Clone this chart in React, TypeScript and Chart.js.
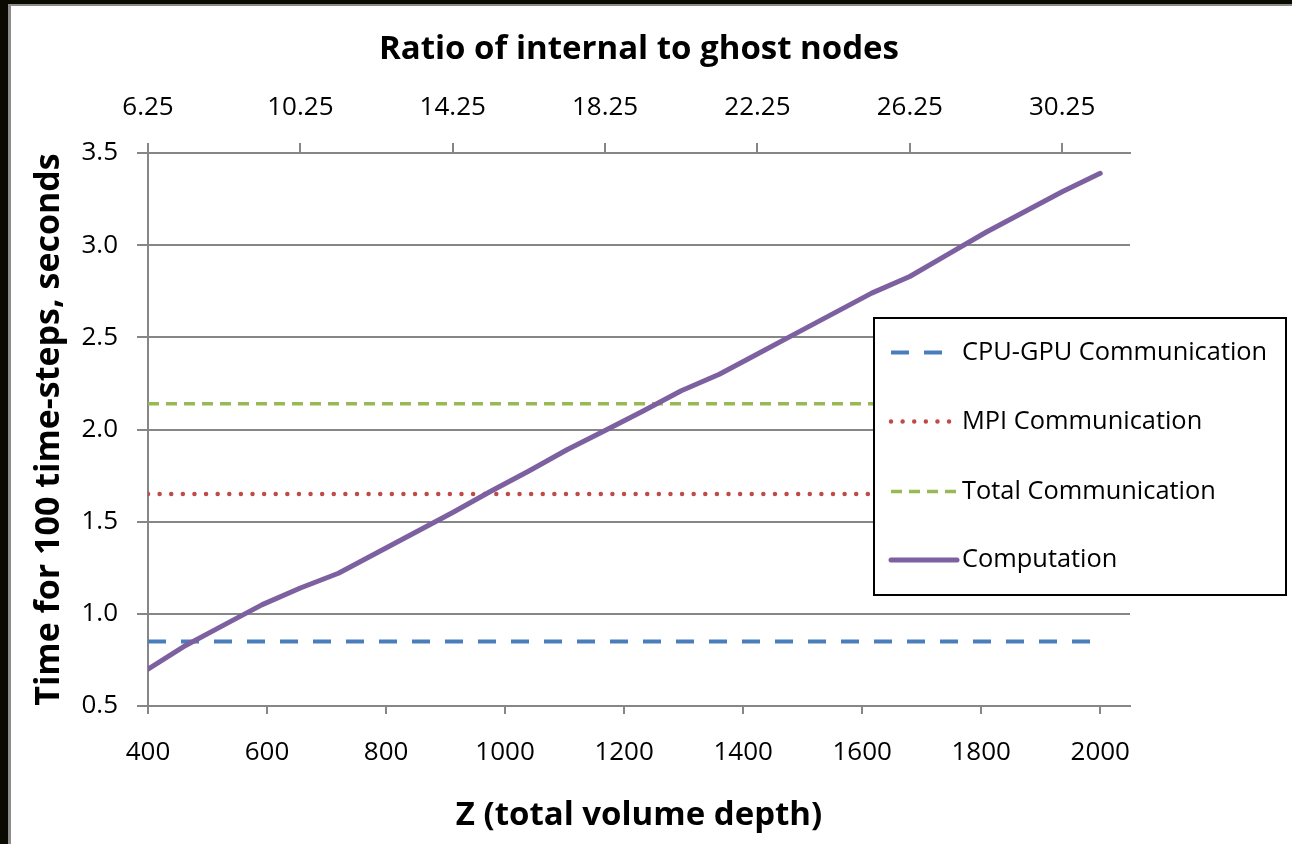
import { useEffect, useRef } from 'react';
import { Chart, registerables } from 'chart.js';

Chart.register(...registerables);

// ---- data ----
const depthZ = [400, 464, 528, 592, 656, 720, 784, 848, 912, 976, 1040, 1104, 1168, 1232, 1296, 1360, 1424, 1488, 1552, 1616, 1680, 1744, 1808, 1872, 1936, 2000];
const computation = [0.70, 0.83, 0.94, 1.05, 1.14, 1.22, 1.33, 1.44, 1.55, 1.665, 1.775, 1.89, 1.995, 2.10, 2.21, 2.30, 2.41, 2.52, 2.63, 2.74, 2.83, 2.95, 3.07, 3.18, 3.29, 3.39];
const flatZ = [400, 2000];
const cpuGpuComm = [0.85, 0.85];
const mpiComm = [1.65, 1.65];
const totalComm = [2.14, 2.14];

const seriesNames = ['CPU-GPU Communication', 'MPI Communication', 'Total Communication', 'Computation'];

const bottomTicks = [400, 600, 800, 1000, 1200, 1400, 1600, 1800, 2000];
const topTicks = [400, 656, 912, 1168, 1424, 1680, 1936];
const topTickLabels = ['6.25', '10.25', '14.25', '18.25', '22.25', '26.25', '30.25'];
const yTicks = [0.5, 1.0, 1.5, 2.0, 2.5, 3.0, 3.5];

const xTitle = 'Z (total volume depth)';
const topTitle = 'Ratio of internal to ghost nodes';
const yTitle = 'Time for 100 time-steps, seconds';

const FONT = "'Open Sans', sans-serif";
const GRID = '#868686';

const pts = (xs: number[], ys: number[]) => xs.map((x, i) => ({ x, y: ys[i] }));

const framePlugin = {
  id: 'frame',
  beforeDraw(chart: any) {
    const { ctx, width, height } = chart;
    ctx.save();
    ctx.fillStyle = '#ffffff';
    ctx.fillRect(0, 0, width, height);
    ctx.fillStyle = '#0a0a00';
    ctx.fillRect(0, 0, width, 4);
    ctx.fillRect(0, 0, 8, height);
    ctx.fillStyle = '#8c8c8c';
    ctx.fillRect(8, 4, width - 8, 2);
    ctx.fillRect(8, 4, 3, height - 4);
    ctx.restore();
  },
};

const boxLegendPlugin = {
  id: 'boxLegend',
  afterDatasetsDraw(chart: any) {
    const { ctx } = chart;
    const left = 874, top = 318, w = 412, h = 277;
    const rows = [352.5, 421.5, 491.5, 560];
    ctx.save();
    ctx.fillStyle = '#ffffff';
    ctx.fillRect(left, top, w, h);
    ctx.strokeStyle = '#000000';
    ctx.lineWidth = 2;
    ctx.setLineDash([]);
    ctx.strokeRect(left, top, w, h);
    chart.data.datasets.forEach((ds: any, i: number) => {
      const y = rows[i];
      ctx.save();
      ctx.beginPath();
      ctx.setLineDash(ds.borderDash || []);
      ctx.lineCap = ds.borderCapStyle || 'butt';
      ctx.strokeStyle = ds.borderColor;
      ctx.lineWidth = ds.borderWidth;
      ctx.moveTo(891, y);
      ctx.lineTo(957, y);
      ctx.stroke();
      ctx.restore();
      ctx.fillStyle = '#000000';
      ctx.font = `25.4px ${FONT}`;
      ctx.textBaseline = 'middle';
      ctx.textAlign = 'left';
      ctx.fillText(ds.label, 962, y);
    });
    ctx.restore();
  },
};

export default function App() {
  const ref = useRef<HTMLCanvasElement | null>(null);

  useEffect(() => {
    document.body.style.margin = '0';
    if (!ref.current) return;
    const chart = new Chart(ref.current, {
      type: 'line',
      data: {
        datasets: [
          {
            label: seriesNames[0],
            data: pts(flatZ, cpuGpuComm),
            borderColor: '#4a7ebb',
            borderWidth: 4,
            borderDash: [18, 15],
            borderCapStyle: 'butt',
            pointRadius: 0,
            order: 1,
          },
          {
            label: seriesNames[1],
            data: pts(flatZ, mpiComm),
            borderColor: '#be4b48',
            borderWidth: 4.5,
            borderDash: [0.01, 11.6],
            borderCapStyle: 'round',
            pointRadius: 0,
            order: 1,
          },
          {
            label: seriesNames[2],
            data: pts(flatZ, totalComm),
            borderColor: '#98b954',
            borderWidth: 3.5,
            borderDash: [11, 7],
            borderCapStyle: 'butt',
            pointRadius: 0,
            order: 1,
          },
          {
            label: seriesNames[3],
            data: pts(depthZ, computation),
            borderColor: '#7d60a0',
            borderWidth: 5,
            borderCapStyle: 'round',
            borderJoinStyle: 'round',
            pointRadius: 0,
            order: 0,
          },
        ],
      } as any,
      options: {
        animation: false,
        responsive: false,
        maintainAspectRatio: false,
        events: [],
        layout: { padding: { left: 0, top: 0, right: 162, bottom: 0 } },
        plugins: {
          legend: { display: false },
          tooltip: { enabled: false },
          title: { display: false },
        },
        elements: { line: { tension: 0 } },
        scales: {
          x: {
            type: 'linear',
            position: 'bottom',
            min: 400,
            max: 2050,
            afterBuildTicks: (s: any) => {
              s.ticks = bottomTicks.map((v) => ({ value: v }));
            },
            afterFit: (s: any) => {
              s.height = 138;
            },
            ticks: {
              color: '#000',
              font: { family: FONT, size: 26 },
              padding: 23,
              maxRotation: 0,
              autoSkip: false,
              callback: (v: any) => String(v),
            },
            grid: {
              drawOnChartArea: false,
              drawTicks: true,
              tickLength: 8,
              color: GRID,
              lineWidth: 2,
            },
            border: { display: true, color: GRID, width: 2 },
            title: {
              display: true,
              text: xTitle,
              color: '#000',
              font: { family: FONT, size: 33, weight: 'bold' },
              padding: { top: 0, bottom: 9 },
            },
          },
          x2: {
            type: 'linear',
            position: 'top',
            min: 400,
            max: 2050,
            afterBuildTicks: (s: any) => {
              s.ticks = topTicks.map((v) => ({ value: v }));
            },
            afterFit: (s: any) => {
              s.height = 153;
            },
            ticks: {
              color: '#000',
              font: { family: FONT, size: 26 },
              padding: 20,
              maxRotation: 0,
              autoSkip: false,
              callback: (v: any) => {
                const i = topTicks.indexOf(Number(v));
                return i >= 0 ? topTickLabels[i] : '';
              },
            },
            grid: {
              drawOnChartArea: false,
              drawTicks: true,
              tickLength: 10,
              color: GRID,
              lineWidth: 2,
            },
            border: { display: true, color: GRID, width: 2 },
            title: {
              display: true,
              text: topTitle,
              color: '#000',
              font: { family: FONT, size: 33, weight: 'bold' },
              padding: { top: 30, bottom: 0 },
            },
          },
          y: {
            type: 'linear',
            position: 'left',
            min: 0.5,
            max: 3.5,
            afterBuildTicks: (s: any) => {
              s.ticks = yTicks.map((v) => ({ value: v }));
            },
            afterFit: (s: any) => {
              s.width = 148;
            },
            ticks: {
              color: '#000',
              font: { family: FONT, size: 26 },
              padding: 19,
              callback: (v: any) => Number(v).toFixed(1),
            },
            grid: {
              drawOnChartArea: true,
              drawTicks: true,
              tickLength: 11,
              color: GRID,
              lineWidth: 2,
            },
            border: { display: true, color: GRID, width: 2 },
            title: {
              display: true,
              text: yTitle,
              color: '#000',
              font: { family: FONT, size: 34, weight: 'bold' },
              padding: { top: 29, bottom: 0 },
            },
          },
        },
      } as any,
      plugins: [framePlugin, boxLegendPlugin],
    });
    return () => chart.destroy();
  }, []);

  return (
    <div style={{ width: 1292, height: 844, position: 'relative' }}>
      <canvas ref={ref} width={1292} height={844} style={{ display: 'block' }} />
    </div>
  );
}
